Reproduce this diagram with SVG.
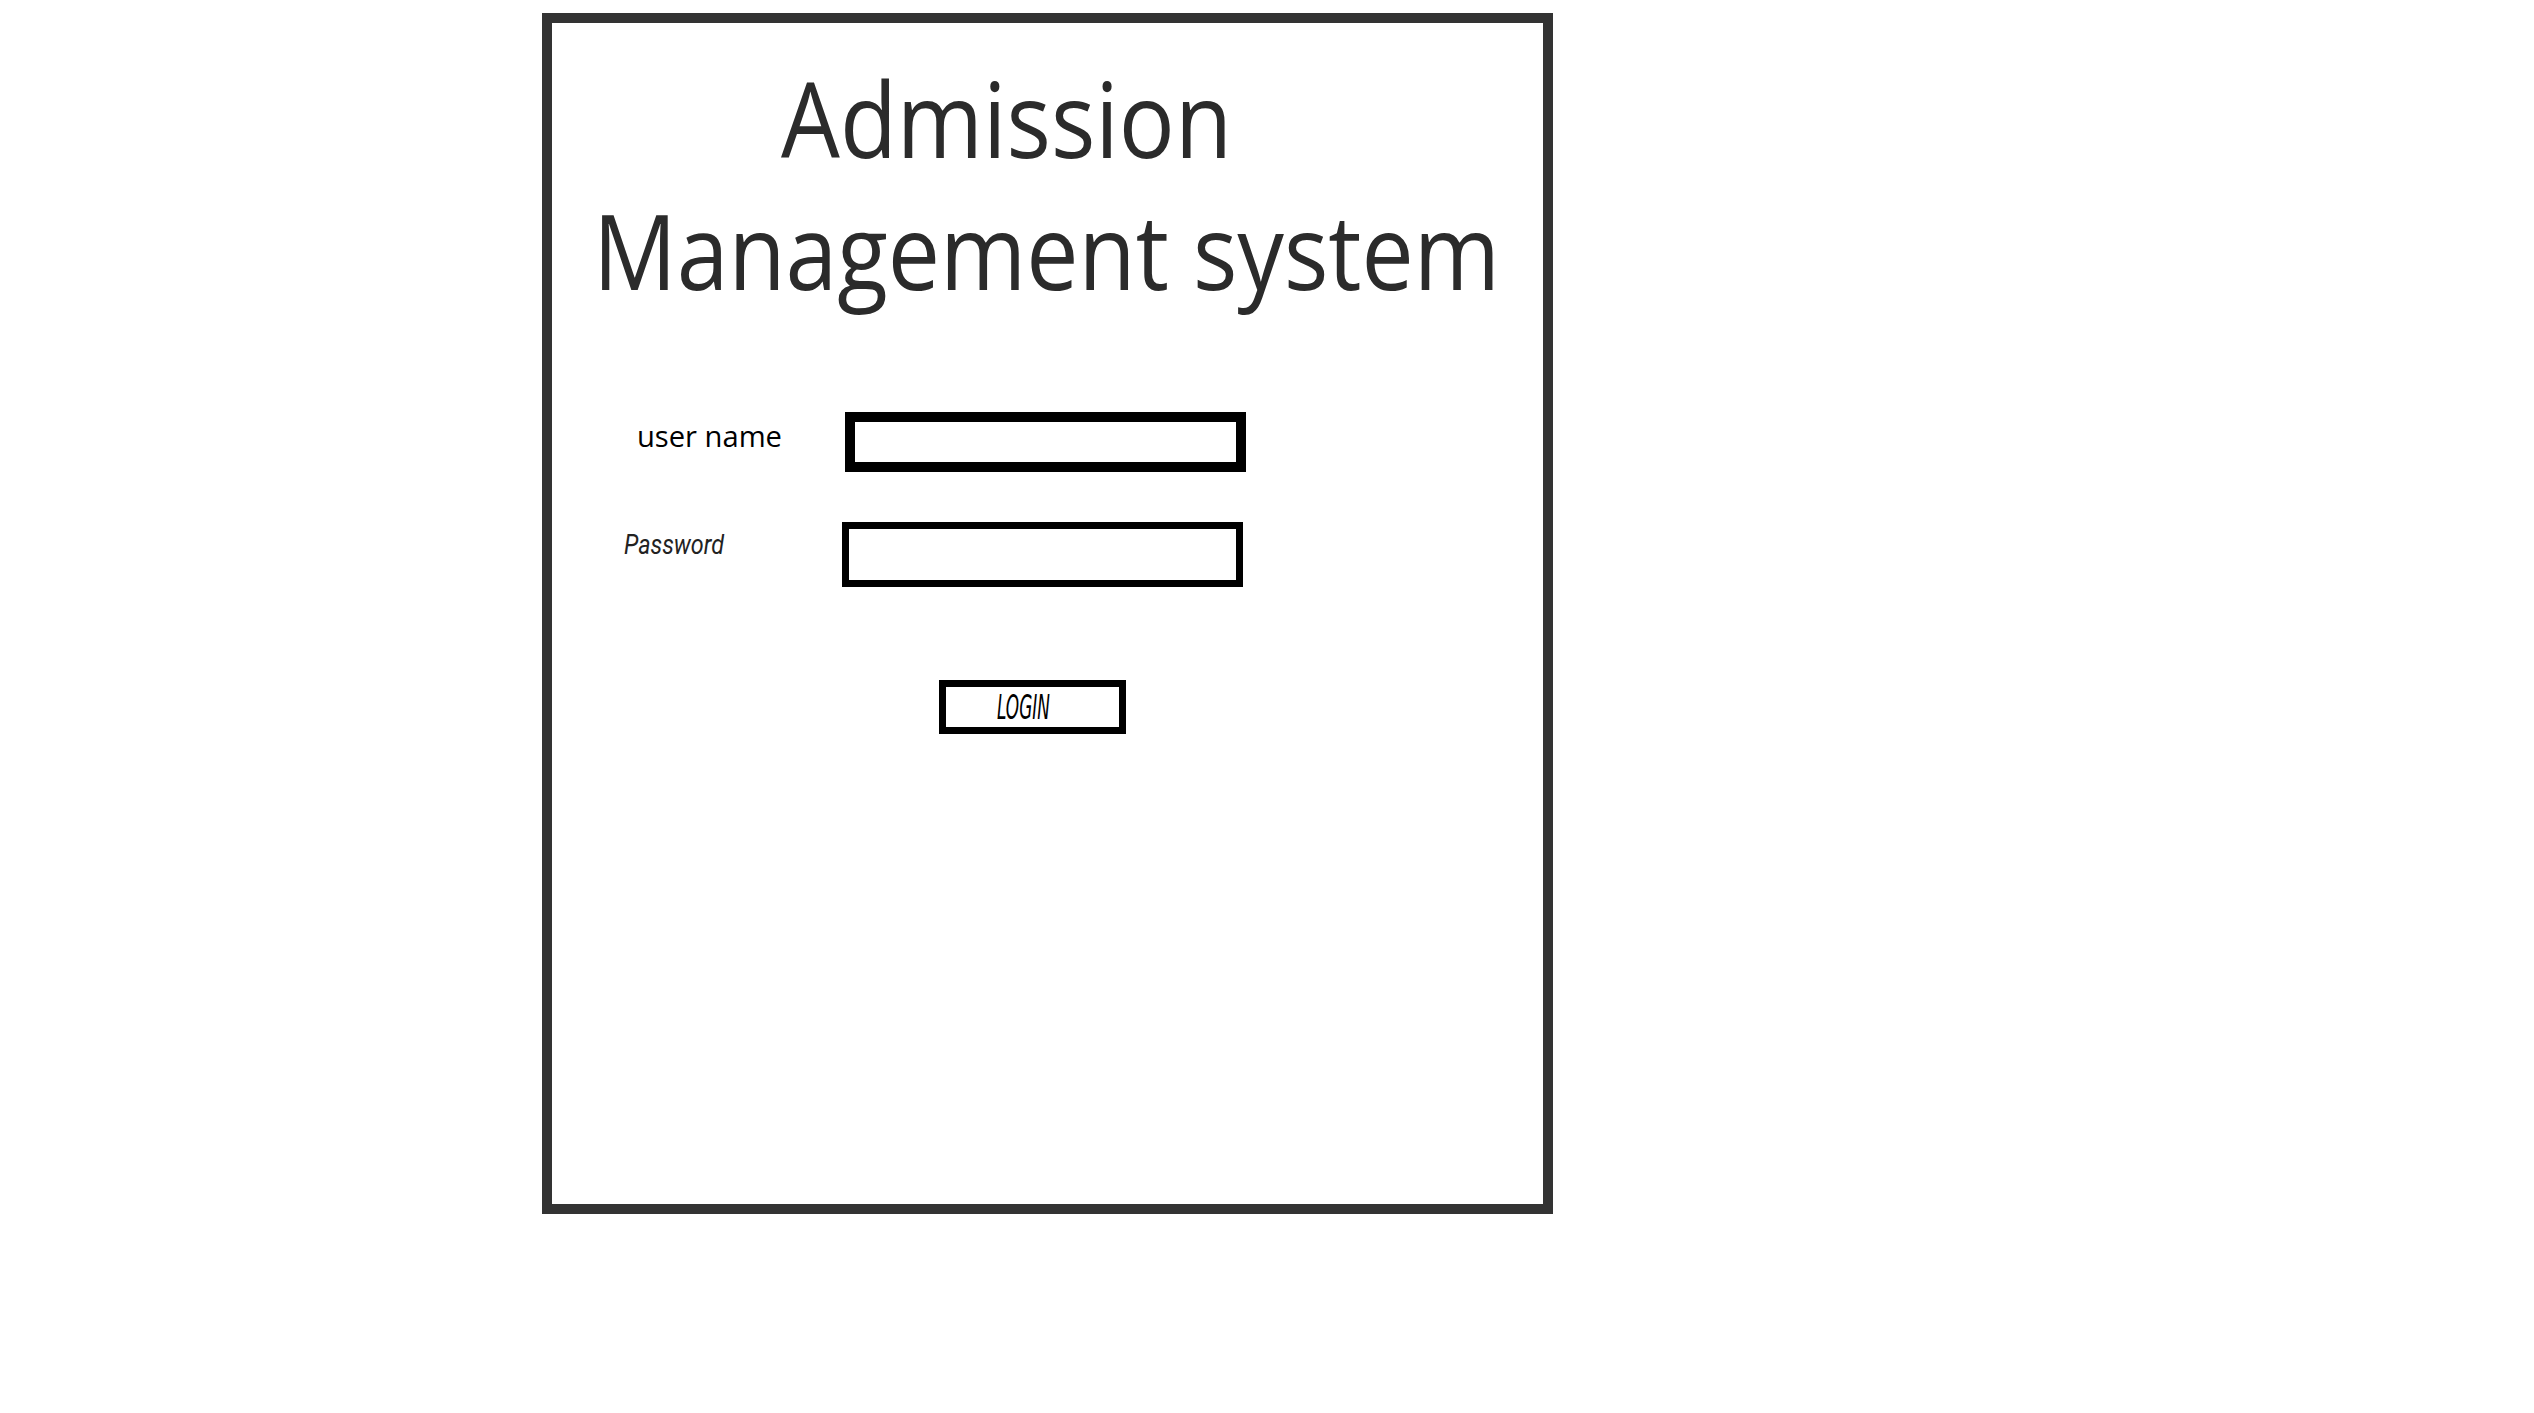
<svg xmlns="http://www.w3.org/2000/svg" width="2534" height="1413" viewBox="0 0 2534 1413">
<style>
.title{font-family:"Open Sans","Noto Sans","Liberation Sans",sans-serif;font-size:104px;fill:#2b2b2b}
.field{fill:none;stroke:#000}
</style>
<rect width="2534" height="1413" fill="#fff"/>
<g id="frame"><rect x="547" y="18" width="1001" height="1191" fill="none" stroke="#333" stroke-width="10"/></g>
<g id="title">
<text class="title" x="781" y="158" textLength="451" lengthAdjust="spacingAndGlyphs">Admission</text>
<text class="title" x="593" y="290" textLength="907" lengthAdjust="spacingAndGlyphs">Management system</text>
</g>
<g id="username">
<text x="637" y="447" font-family="Open Sans, Noto Sans, sans-serif" font-size="30" fill="#000" textLength="145" lengthAdjust="spacingAndGlyphs">user name</text>
<rect class="field" x="850" y="417" width="391" height="50" stroke-width="10"/>
</g>
<g id="password">
<text x="624" y="554" font-family="Roboto, Liberation Sans, sans-serif" font-style="italic" font-size="27" fill="#222" textLength="100" lengthAdjust="spacingAndGlyphs">Password</text>
<rect class="field" x="845.5" y="525.5" width="394" height="58" stroke-width="7"/>
</g>
<g id="login">
<rect class="field" x="942.5" y="683.5" width="180" height="47" stroke-width="7"/>
<text x="997" y="719" font-family="Liberation Sans Narrow, DejaVu Sans Condensed, sans-serif" font-style="italic" font-size="33" fill="#000" textLength="53" lengthAdjust="spacingAndGlyphs">LOGIN</text>
</g>
</svg>
